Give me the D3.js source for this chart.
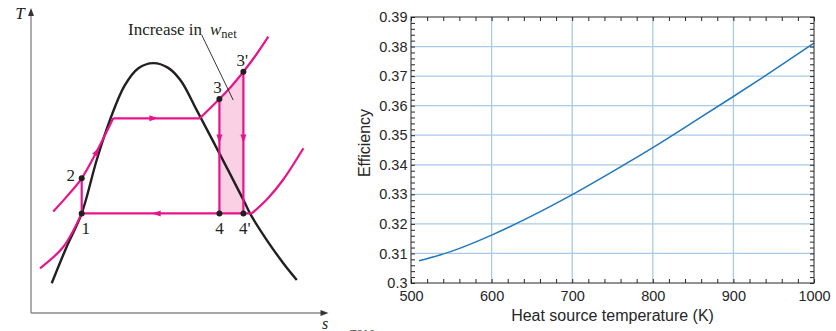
<!DOCTYPE html>
<html>
<head>
<meta charset="utf-8">
<script src="https://cdn.jsdelivr.net/npm/d3@7"></script>
<style>
  html, body { margin: 0; padding: 0; background: #fff; }
  svg { display: block; }
</style>
</head>
<body>
<div id="chart"></div>
<script>
// ---- right chart data ----
const temps = [510, 550, 600, 650, 700, 750, 800, 850, 900, 950, 1000];
const efficiency = [0.3075, 0.3107, 0.3162, 0.3227, 0.3299, 0.3377, 0.3458, 0.3544, 0.3631, 0.3720, 0.3812];
const xTicks = [500, 600, 700, 800, 900, 1000];
const yTicks = [0.30, 0.31, 0.32, 0.33, 0.34, 0.35, 0.36, 0.37, 0.38, 0.39];

// ---- left T-s diagram data (schematic units: s 0-99, T 0-100) ----
const dome = [[6.9, 9.9], [11.9, 22.1], [16.9, 33.2], [21.9, 51.0], [26.3, 64.3], [31.2, 75.8], [35.8, 81.6],
  [40.8, 83.3], [45.6, 81.8], [49.9, 77.5], [55.2, 67.7], [62.8, 53.2], [70.8, 37.7], [73.0, 33.2],
  [78.6, 24.3], [84.1, 16.6], [88.6, 11.0]];
const highLiquid = [[7.4, 33.8], [11.9, 38.8], [16.9, 44.9], [21.9, 53.8], [25.2, 60.4], [27.4, 64.9]];
const highBoil = [[27.4, 64.9], [56.3, 64.9]];
const highVapor = [[56.3, 64.9], [62.8, 71.3], [66.8, 75.6], [70.8, 80.4], [75.0, 86.0], [79.1, 92.1]];
const lowLiquid = [[3.0, 14.9], [10.8, 22.1], [16.9, 33.2]];
const lowCond = [[16.9, 33.2], [73.6, 33.2]];
const lowVapor = [[73.6, 33.2], [78.6, 37.8], [84.1, 44.5], [90.8, 54.9]];
const pump = [[16.9, 33.2], [16.9, 44.9]];
const turbine = [[62.8, 71.3], [62.8, 33.2]];
const turbinePrime = [[70.8, 80.4], [70.8, 33.2]];
const shaded = [[62.8, 71.3], [66.8, 75.6], [70.8, 80.4]];
const states = [
  { name: "1", s: 16.9, T: 33.2, dx: 4, dy: 21 },
  { name: "2", s: 16.9, T: 44.9, dx: -11, dy: 3 },
  { name: "3", s: 62.8, T: 71.3, dx: -2, dy: -6 },
  { name: "3'", s: 70.8, T: 80.4, dx: -1, dy: -6 },
  { name: "4", s: 62.8, T: 33.2, dx: 0, dy: 21 },
  { name: "4'", s: 70.8, T: 33.2, dx: 1.5, dy: 21 }
];
const arrows = [
  { s: 40.8, T: 64.9, ds: 1, dT: 0 },
  { s: 41.9, T: 33.2, ds: -1, dT: 0 },
  { s: 62.8, T: 58.2, ds: 0, dT: -1 },
  { s: 70.8, T: 58.2, ds: 0, dT: -1 },
  { s: 21.9, T: 53.8, ds: 8.3, dT: 15.5 }
];
const leader = [[56.9, 92.7], [67.4, 71.0]];

const W = 836, H = 331;
const svg = d3.select('#chart').append('svg')
  .attr('width', W).attr('height', H)
  .attr('font-family', '"Liberation Sans", Arial, sans-serif');

// ================= left diagram =================
const PINK = '#e8138a';
const SERIF = '"Liberation Serif", "DejaVu Serif", serif';
const sx = d3.scaleLinear().domain([0, 99]).range([31, 328]);
const sT = d3.scaleLinear().domain([0, 100]).range([313, 13]);
const left = svg.append('g');

const ln = d3.line().x(d => sx(d[0])).y(d => sT(d[1]));
const smooth = d3.line().x(d => sx(d[0])).y(d => sT(d[1])).curve(d3.curveCatmullRom);

// shaded increase in work
left.append('path')
  .datum(shaded)
  .attr('fill', '#f9d0e4')
  .attr('d', d3.area().x(d => sx(d[0])).y0(sT(33.2)).y1(d => sT(d[1])).curve(d3.curveCatmullRom));

// axes
const axisColor = '#8a8a8a';
left.append('line').attr('x1', sx(0)).attr('y1', sT(0)).attr('x2', sx(0)).attr('y2', 15)
  .attr('stroke', axisColor).attr('stroke-width', 1.4);
left.append('path').attr('d', `M${sx(0)},8 L${sx(0) - 3},16 L${sx(0) + 3},16 Z`).attr('fill', '#333');
left.append('line').attr('x1', sx(0)).attr('y1', sT(0)).attr('x2', 321).attr('y2', sT(0))
  .attr('stroke', axisColor).attr('stroke-width', 1.4);
left.append('path').attr('d', `M328.5,${sT(0)} L320.5,${sT(0) - 3} L320.5,${sT(0) + 3} Z`).attr('fill', '#333');
left.append('text').text('T').attr('x', 20).attr('y', 19).attr('text-anchor', 'middle')
  .attr('font-family', SERIF).attr('font-style', 'italic')
  .attr('font-size', 17).attr('fill', '#231f20');
left.append('text').text('s').attr('x', 325).attr('y', 328.5).attr('text-anchor', 'middle')
  .attr('font-family', SERIF).attr('font-style', 'italic')
  .attr('font-size', 16).attr('fill', '#231f20');

// saturation dome
left.append('path').datum(dome).attr('d', smooth)
  .attr('fill', 'none').attr('stroke', '#231f20').attr('stroke-width', 2.4);

// cycle lines
[highLiquid, highVapor, lowLiquid, lowVapor].forEach(seg => {
  left.append('path').datum(seg).attr('d', smooth)
    .attr('fill', 'none').attr('stroke', PINK).attr('stroke-width', 2.2);
});
[highBoil, lowCond, pump, turbine, turbinePrime].forEach(seg => {
  left.append('path').datum(seg).attr('d', ln)
    .attr('fill', 'none').attr('stroke', PINK).attr('stroke-width', 2.2);
});

// flow arrows
left.selectAll('path.arrow').data(arrows).enter().append('path')
  .attr('class', 'arrow')
  .attr('d', 'M4.5,0 L-4,-3 L-4,3 Z')
  .attr('fill', PINK)
  .attr('transform', d => {
    const ang = Math.atan2(sT(d.T + d.dT) - sT(d.T), sx(d.s + d.ds) - sx(d.s)) * 180 / Math.PI;
    return `translate(${sx(d.s)},${sT(d.T)}) rotate(${ang})`;
  });

// leader line and label
left.append('path').datum(leader).attr('d', ln)
  .attr('stroke', '#231f20').attr('stroke-width', 0.9).attr('fill', 'none');
const lbl = left.append('text').attr('x', 128).attr('y', 34.5)
  .attr('font-family', SERIF).attr('font-size', 17).attr('fill', '#231f20');
lbl.append('tspan').text('Increase in');
lbl.append('tspan').attr('x', 210).attr('font-style', 'italic').text('w');
lbl.append('tspan').attr('dy', 3.5).attr('font-size', 12.5).text('net');

// state points
left.selectAll('circle.state').data(states).enter().append('circle')
  .attr('class', 'state')
  .attr('cx', d => sx(d.s)).attr('cy', d => sT(d.T)).attr('r', 3)
  .attr('fill', '#231f20');
left.selectAll('text.state').data(states).enter().append('text')
  .attr('class', 'state')
  .attr('x', d => sx(d.s) + d.dx).attr('y', d => sT(d.T) + d.dy)
  .attr('text-anchor', 'middle')
  .attr('font-family', SERIF).attr('font-size', 17)
  .attr('fill', '#231f20')
  .text(d => d.name);

// figure code, cut by the lower edge as in the source
left.append('text').text('T816').attr('x', 350).attr('y', 337.5)
  .attr('font-size', 11).attr('fill', '#555');

// ================= right chart =================
const plot = { left: 411, right: 814, top: 17, bottom: 283 };
const x = d3.scaleLinear().domain([500, 1000]).range([plot.left, plot.right]);
const y = d3.scaleLinear().domain([0.30, 0.39]).range([plot.bottom, plot.top]);
const g = svg.append('g');

const xMinor = d3.range(500, 1001, 20);
const yMinor = d3.range(0, 46).map(i => 0.30 + i * 0.002);
const GRID = '#a8cae6';

// grid
g.selectAll('line.vg').data(xTicks.slice(1, -1)).enter().append('line')
  .attr('x1', d => x(d)).attr('x2', d => x(d)).attr('y1', plot.top).attr('y2', plot.bottom)
  .attr('stroke', GRID).attr('stroke-width', 1.3);
g.selectAll('line.hg').data(yTicks.slice(1, -1)).enter().append('line')
  .attr('y1', d => y(d)).attr('y2', d => y(d)).attr('x1', plot.left).attr('x2', plot.right)
  .attr('stroke', GRID).attr('stroke-width', 1.3);

// efficiency curve
g.append('path')
  .datum(temps.map((t, i) => [t, efficiency[i]]))
  .attr('fill', 'none').attr('stroke', '#1f77bd').attr('stroke-width', 1.5)
  .attr('d', d3.line().x(d => x(d[0])).y(d => y(d[1])).curve(d3.curveMonotoneX));

// ticks (inward, all four sides)
const tickStyle = sel => {
  sel.select('.domain').remove();
  sel.selectAll('line').attr('stroke', '#262626');
  sel.selectAll('text').attr('fill', '#262626').attr('font-size', 14.5)
    .attr('font-family', '"Liberation Sans", Arial, sans-serif');
};
g.append('g').attr('transform', `translate(0,${plot.bottom})`)
  .call(d3.axisBottom(x).tickValues(xMinor).tickSize(-4).tickFormat('')).call(tickStyle);
g.append('g').attr('transform', `translate(0,${plot.top})`)
  .call(d3.axisTop(x).tickValues(xMinor).tickSize(-4).tickFormat('')).call(tickStyle);
g.append('g').attr('transform', `translate(${plot.left},0)`)
  .call(d3.axisLeft(y).tickValues(yMinor).tickSize(-4).tickFormat('')).call(tickStyle);
g.append('g').attr('transform', `translate(${plot.right},0)`)
  .call(d3.axisRight(y).tickValues(yMinor).tickSize(-4).tickFormat('')).call(tickStyle);

// tick labels
g.append('g').attr('transform', `translate(0,${plot.bottom})`)
  .call(d3.axisBottom(x).tickValues(xTicks).tickSize(0).tickPadding(8).tickFormat(d3.format('d')))
  .call(tickStyle);
g.append('g').attr('transform', `translate(${plot.left},0)`)
  .call(d3.axisLeft(y).tickValues(yTicks).tickSize(0).tickPadding(3.5).tickFormat(d => String(+d.toFixed(2))))
  .call(tickStyle);

// frame
g.append('rect')
  .attr('x', plot.left).attr('y', plot.top)
  .attr('width', plot.right - plot.left).attr('height', plot.bottom - plot.top)
  .attr('fill', 'none').attr('stroke', '#262626').attr('stroke-width', 1);

// axis titles
g.append('text').text('Heat source temperature (K)')
  .attr('x', (plot.left + plot.right) / 2).attr('y', 320.5).attr('text-anchor', 'middle')
  .attr('font-size', 16).attr('fill', '#262626');
g.append('text').text('Efficiency')
  .attr('transform', `translate(369.5,143) rotate(-90)`).attr('text-anchor', 'middle')
  .attr('font-size', 16).attr('fill', '#262626');
</script>
</body>
</html>
